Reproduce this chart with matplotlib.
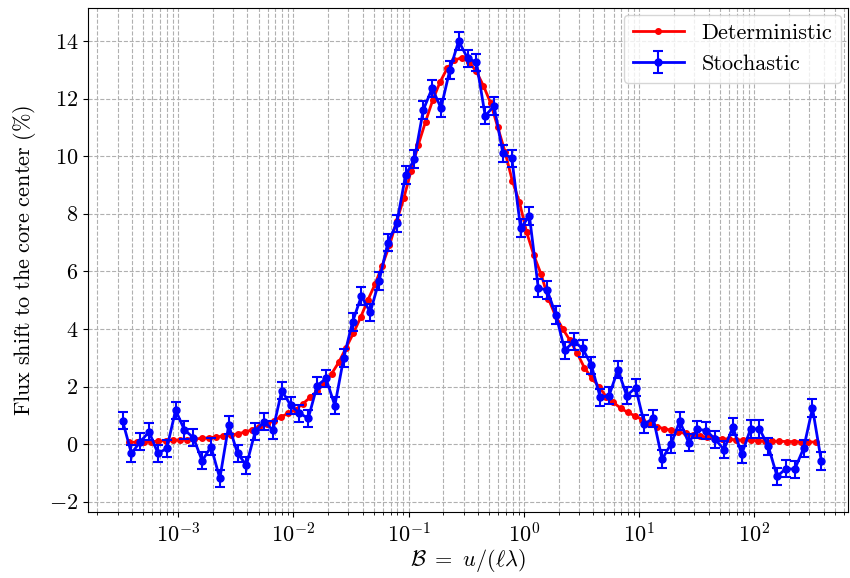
import numpy as np
import matplotlib
matplotlib.use("Agg")
import matplotlib.pyplot as plt

plt.rcParams['font.family'] = 'serif'
plt.rcParams['font.serif'] = ['cmr10']
plt.rcParams['mathtext.fontset'] = 'cm'
plt.rcParams['axes.formatter.use_mathtext'] = True

# deterministic curve (96 log-spaced points)
b_det = np.logspace(-3.42, 2.53, 96)
flux_det = [0.06, 0.07, 0.08, 0.09, 0.10, 0.12, 0.13, 0.15, 0.16, 0.18,
            0.20, 0.22, 0.25, 0.28, 0.31, 0.36, 0.42, 0.50, 0.60, 0.70,
            0.82, 0.95, 1.07, 1.20, 1.40, 1.62, 1.85, 2.12, 2.45, 2.85,
            3.35, 3.85, 4.40, 5.00, 5.55, 6.20, 6.90, 7.75, 8.55, 9.50,
            10.40, 11.20, 11.95, 12.57, 13.05, 13.33, 13.42, 13.28, 12.95, 12.45,
            11.85, 11.00, 10.15, 9.15, 8.40, 7.35, 6.55, 5.90, 5.05, 4.45,
            4.00, 3.60, 3.15, 2.65, 2.30, 2.00, 1.65, 1.45, 1.25, 1.10,
            0.98, 0.85, 0.70, 0.60, 0.54, 0.48, 0.42, 0.37, 0.32, 0.27,
            0.24, 0.21, 0.19, 0.17, 0.15, 0.14, 0.13, 0.12, 0.11, 0.10,
            0.10, 0.09, 0.09, 0.08, 0.08, 0.07]

# stochastic runs (80 log-spaced points)
b_sto = np.logspace(-3.48, 2.58, 80)
flux_sto = [0.81, -0.32, 0.08, 0.43, -0.32, -0.15, 1.18, 0.49, 0.23, -0.58,
            -0.09, -1.19, 0.66, -0.32, -0.73, 0.44, 0.78, 0.49, 1.86, 1.35,
            1.07, 0.90, 2.03, 2.28, 1.34, 2.99, 4.24, 5.14, 4.58, 5.66,
            7.00, 7.67, 9.34, 9.90, 11.60, 12.36, 11.67, 12.99, 14.00, 13.40,
            13.26, 11.40, 11.74, 10.10, 9.93, 7.50, 7.92, 5.42, 5.35, 4.48,
            3.26, 3.56, 3.33, 2.74, 1.63, 1.68, 2.58, 1.68, 1.96, 0.70,
            0.90, -0.52, 0.00, 0.80, 0.05, 0.52, 0.47, 0.17, -0.19, 0.60,
            -0.35, 0.53, 0.53, -0.07, -1.12, -0.85, -0.87, -0.14, 1.25, -0.59]
err_sto = 0.3

fig = plt.figure(figsize=(8.5, 5.78), dpi=100)
ax = fig.add_axes([0.1035, 0.114, 0.894, 0.872])

ax.plot(b_det, flux_det, '-o', color='red', lw=2, ms=4, label='Deterministic', zorder=2)
ax.errorbar(b_sto, flux_sto, yerr=err_sto, fmt='-o', color='blue', lw=2, ms=5,
            capsize=3.5, elinewidth=1.5, capthick=1.5, label='Stochastic', zorder=3)

ax.set_xscale('log')
ax.set_xlim(1.66e-4, 646)
ax.set_ylim(-2.36, 15.14)
ax.set_yticks(np.arange(-2, 15, 2))
ax.grid(True, which='major', ls='--', color='#b0b0b0', lw=0.8)
ax.grid(True, which='minor', axis='x', ls='--', color='#b0b0b0', lw=0.8)
ax.tick_params(labelsize=16)

ax.set_xlabel(r'$\mathcal{B}\ =\ u/(\ell\lambda)$', fontsize=16, labelpad=1)
ax.set_ylabel(r'$\mathrm{Flux\ shift\ to\ the\ core\ center\ (\%)}$', fontsize=16, labelpad=8)
ax.legend(loc='upper right', fontsize=16, handlelength=2.3, borderaxespad=0.3)

fig.savefig('out.png', dpi=100)
